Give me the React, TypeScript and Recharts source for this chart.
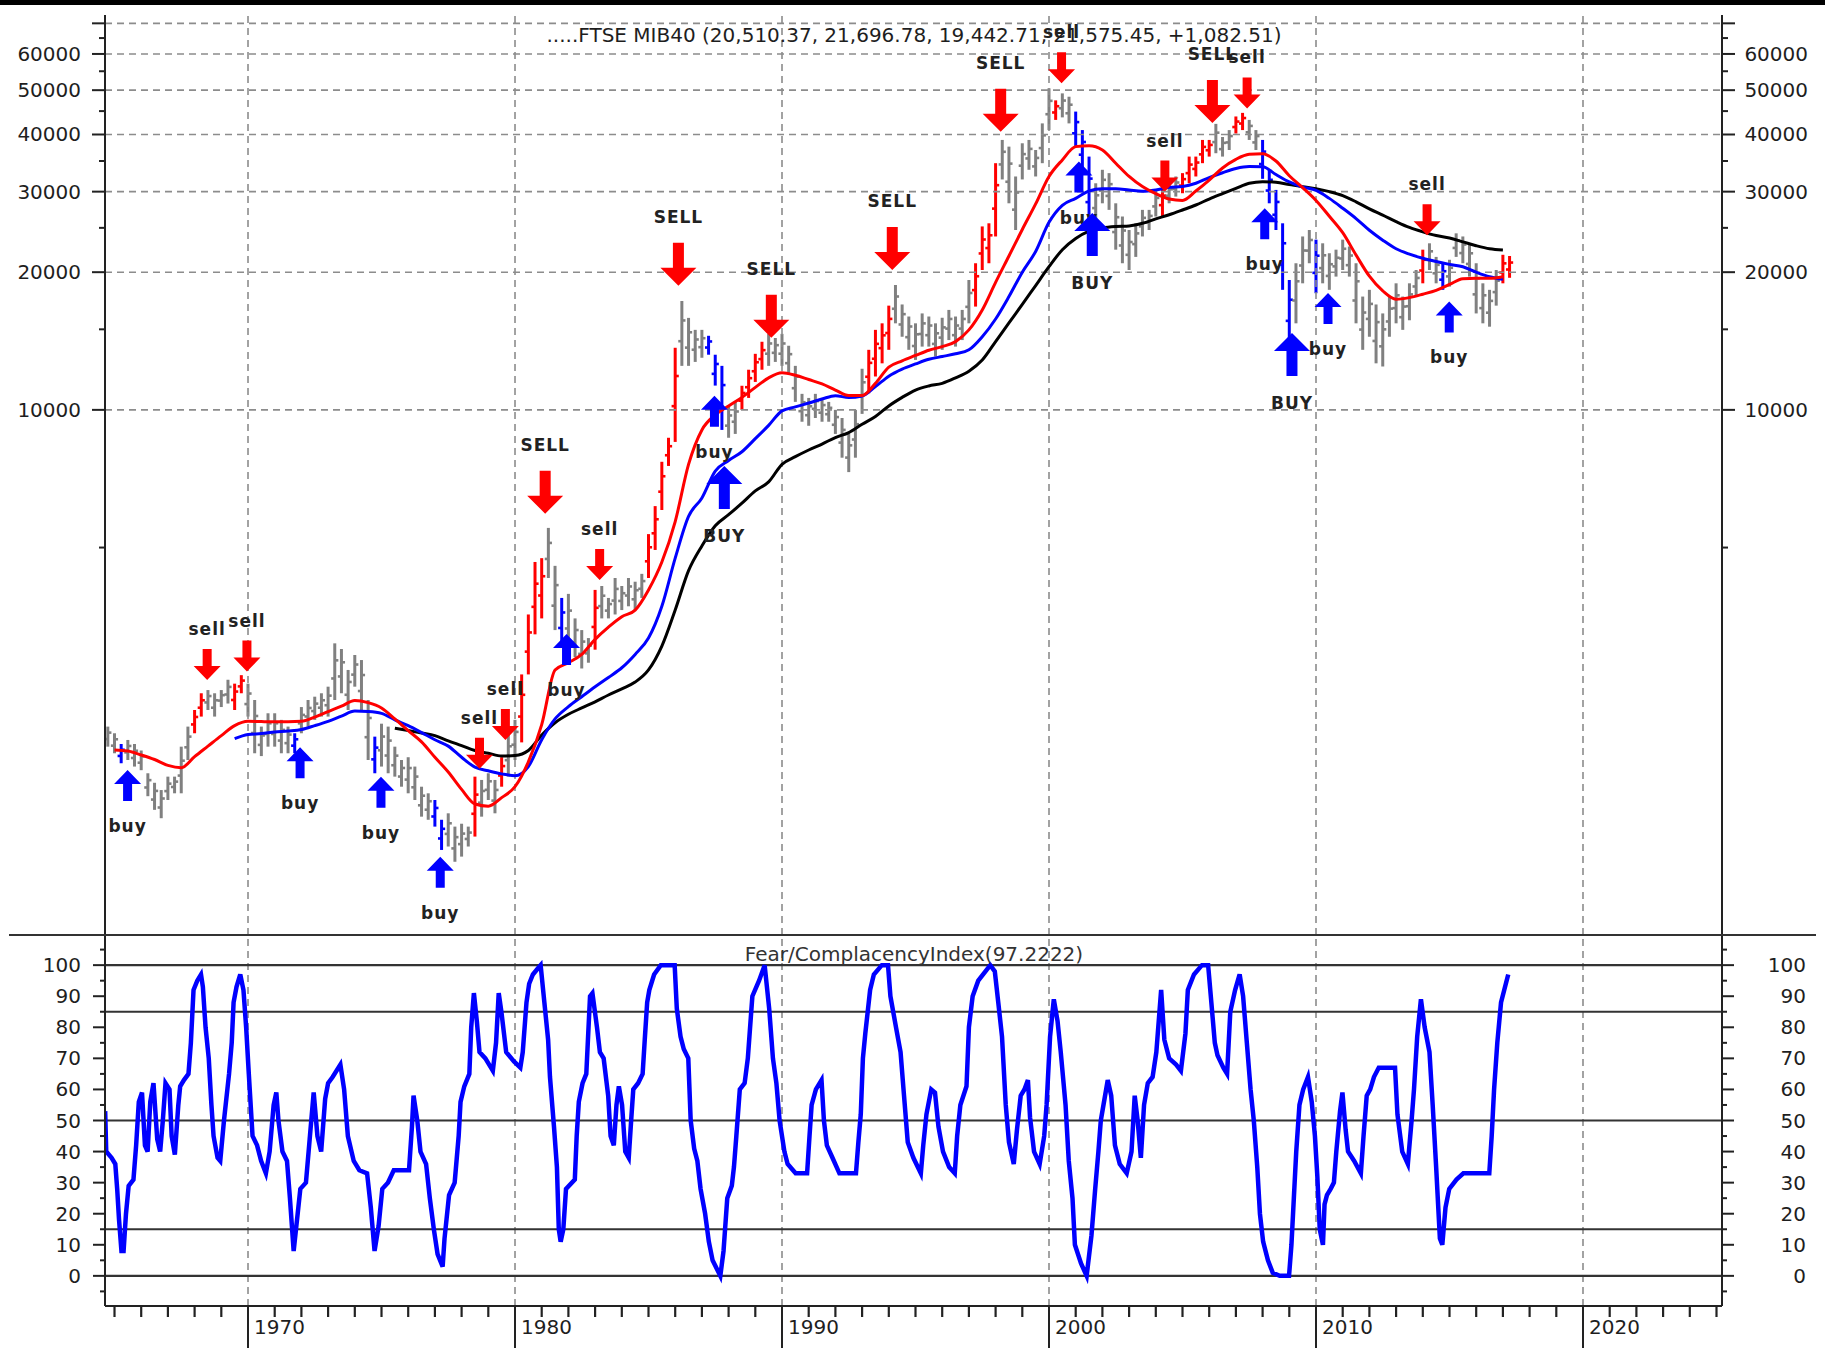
import React from 'react';
import { ComposedChart, XAxis, YAxis, Bar, Line, Scatter, ReferenceLine } from 'recharts';

// ---------------- DATA ----------------
// quarterly price bars (high / low), first bar = 1964.75, one row per year
const priceHigh = [
  2030,
  1963, 1860, 1898, 1860, // 1965
  1800, 1605, 1530, 1475, // 1966
  1578, 1578, 1835, 2030, // 1967
  2207, 2401, 2440, 2401, // 1968
  2440, 2570, 2520, 2630, // 1969
  2520, 2321, 2030, 2171, // 1970
  2171, 2100, 2030, 1963, // 1971
  2240, 2321, 2360, 2401, // 1972
  2482, 3087, 3000, 2700, // 1973
  2911, 2838, 2321, 1930, // 1974
  2060, 2030, 1835, 1716, // 1975
  1740, 1660, 1500, 1451, // 1976
  1403, 1270, 1312, 1227, // 1977
  1245, 1227, 1578, 1552, // 1978
  1605, 1552, 1740, 1963, // 1979
  2100, 2640, 3570, 4650, // 1980
  4740, 5520, 4560, 3880, // 1981
  3960, 3500, 3300, 3170, // 1982
  4040, 4120, 3880, 4290, // 1983
  4120, 4290, 4210, 4380, // 1984
  5350, 6160, 7700, 8690, // 1985
  13670, 17300, 15890, 14960, // 1986
  14960, 14520, 13200, 12480, // 1987
  10200, 10410, 11290, 12240, // 1988
  13260, 14090, 14660, 14360, // 1989
  14660, 13810, 12480, 10840, // 1990
  10620, 10840, 10620, 10410, // 1991
  10000, 9600, 8860, 10000, // 1992
  12300, 13530, 14960, 15460, // 1993
  16900, 18750, 17000, 16000, // 1994
  15460, 16250, 16000, 15460, // 1995
  15900, 16540, 16000, 16540, // 1996
  19230, 20920, 25180, 25580, // 1997
  34620, 38920, 37630, 32380, // 1998
  38270, 38920, 37000, 42300, // 1999
  50470, 47500, 49200, 48380, // 2000
  44890, 40900, 35790, 31290, // 2001
  33490, 32930, 28290, 26470, // 2002
  24730, 25580, 27370, 27370, // 2003
  30260, 30770, 31290, 32380, // 2004
  32930, 35790, 35790, 38920, // 2005
  38920, 42200, 39500, 40900, // 2006
  43800, 44600, 43050, 40900, // 2007
  38920, 33490, 30260, 25580, // 2008
  19230, 20920, 23940, 24730, // 2009
  23560, 23130, 22000, 22400, // 2010
  23560, 22760, 20920, 17690, // 2011
  18300, 17000, 16250, 17690, // 2012
  18910, 17690, 18910, 20220, // 2013
  22400, 23130, 21600, 20920, // 2014
  21290, 24320, 23940, 23130, // 2015
  20920, 18910, 18300, 20220, // 2016
  21830, 21697, // 2017
];
const priceLow = [
  1835,
  1775, 1688, 1716, 1660, // 1965
  1630, 1430, 1335, 1280, // 1966
  1403, 1451, 1451, 1716, // 1967
  1963, 2135, 2207, 2135, // 1968
  2240, 2280, 2207, 2401, // 1969
  2135, 1775, 1750, 1835, // 1970
  1835, 1775, 1775, 1775, // 1971
  1963, 2030, 2100, 2135, // 1972
  2135, 2321, 2401, 2207, // 1973
  2482, 2207, 1716, 1605, // 1974
  1660, 1605, 1578, 1500, // 1975
  1451, 1403, 1290, 1270, // 1976
  1227, 1091, 1110, 1028, // 1977
  1055, 1110, 1167, 1290, // 1978
  1403, 1312, 1500, 1578, // 1979
  1716, 1875, 2640, 3230, // 1980
  3500, 4290, 3300, 3040, // 1981
  2990, 2880, 2720, 2800, // 1982
  2990, 3500, 3500, 3570, // 1983
  3650, 3720, 3650, 3880, // 1984
  4290, 4940, 6040, 7540, // 1985
  8510, 12480, 12480, 12730, // 1986
  13000, 13200, 11300, 9040, // 1987
  8690, 8860, 10000, 10620, // 1988
  11510, 12240, 12480, 12730, // 1989
  12480, 11990, 10410, 9420, // 1990
  9230, 9600, 9420, 9420, // 1991
  8860, 7860, 7310, 7860, // 1992
  9800, 10870, 11830, 12640, // 1993
  13530, 15460, 14450, 13530, // 1994
  12860, 13750, 13750, 13080, // 1995
  13530, 14210, 13750, 14210, // 1996
  15460, 16820, 20220, 20920, // 1997
  23940, 31900, 28290, 24730, // 1998
  31900, 33490, 32380, 34620, // 1999
  40900, 43050, 43600, 42300, // 2000
  37630, 33490, 24730, 25580, // 2001
  28290, 27370, 22400, 20920, // 2002
  20220, 21600, 23940, 24730, // 2003
  26470, 26470, 28290, 29260, // 2004
  29760, 31290, 32380, 34620, // 2005
  35790, 36400, 35790, 37000, // 2006
  40200, 40900, 38920, 37000, // 2007
  32000, 28290, 24730, 18300, // 2008
  13800, 15460, 18910, 20920, // 2009
  17990, 18910, 18300, 19560, // 2010
  20220, 19560, 15460, 13530, // 2011
  14450, 12640, 12440, 14450, // 2012
  15460, 14960, 15700, 17690, // 2013
  18910, 20220, 18910, 18300, // 2014
  18600, 21600, 20920, 19560, // 2015
  16250, 15460, 15200, 16900, // 2016
  18910, 19443, // 2017
];
const FIRST_BAR_YEAR = 1964.75;
const barYears = priceHigh.map((_, i) => FIRST_BAR_YEAR + i * 0.25);

// signal regimes that colour the bars
const redSpans: [number, number][] = [
  [1967.9, 1968.3], [1969.4, 1969.8], [1978.4, 1978.6], [1979.4, 1979.6], [1980.1, 1981.1],
  [1982.9, 1983.1], [1984.9, 1986.1], [1988.4, 1989.3], [1993.1, 1994.1], [1997.1, 1998.1],
  [2000.1, 2000.3], [2004.1, 2004.3], [2004.9, 2006.1], [2006.9, 2007.3], [2013.9, 2014.1],
  [2016.9, 2017.3],
];
const blueSpans: [number, number][] = [
  [1965.1, 1965.3], [1971.7, 1971.8], [1974.6, 1974.8], [1976.9, 1977.3], [1981.6, 1981.8],
  [1987.1, 1987.8], [2000.9, 2001.6], [2007.9, 2009.1], [2009.9, 2010.1], [2014.6, 2014.8],
];

// moving averages, half-year samples
const redMAStart = 1965.0;
const redMA = [
  1805, 1795, 1760, 1720, 1670, 1650, 1745, 1840, 1940, 2040, // 1965-1969.5
  2085, 2082, 2080, 2080, 2085, 2130, 2190, 2250, 2315, 2290, // 1970-1974.5
  2230, 2110, 1990, 1880, 1740, 1615, 1480, 1375, 1360, 1420, // 1975-1979.5
  1500, 1700, 2050, 2700, 2800, 2920, 3150, 3350, 3530, 3650, // 1980-1984.5
  4040, 4650, 5700, 7600, 9040, 9750, 10200, 10650, 11200, 11750, // 1985-1989.5
  12050, 11900, 11650, 11400, 11050, 10750, 10750, 11430, 12400, 12800, // 1990-1994.5
  13150, 13500, 13750, 14100, 14960, 16540, 19000, 21700, 24800, 28200, // 1995-1999.5
  32380, 35200, 37630, 37800, 37010, 34620, 32380, 30770, 29700, 28900, // 2000-2004.5
  28700, 30100, 31800, 33800, 35300, 36200, 36300, 35000, 32500, 30600, // 2005-2009.5
  28700, 26500, 24400, 21800, 19600, 18200, 17450, 17600, 17900, 18250, // 2010-2014.5
  18800, 19350, 19400, 19400, 19550, // 2015-2017
];
const blueMAStart = 1969.5;
const blueMA = [
  1910, // 1969.5
  1950, 1960, 1975, 1985, 2000, 2040, 2085, 2140, 2195, 2190, // 1970-1974.5
  2170, 2100, 2040, 1970, 1900, 1840, 1740, 1655, 1625, 1600, // 1975-1979.5
  1585, 1660, 1900, 2110, 2245, 2360, 2480, 2600, 2730, 2920, // 1980-1984.5
  3170, 3720, 4740, 5850, 6420, 7350, 7750, 8100, 8650, 9250, // 1985-1989.5
  9950, 10150, 10350, 10560, 10740, 10640, 10720, 11240, 11850, 12280, // 1990-1994.5
  12600, 12900, 13080, 13260, 13530, 14450, 15800, 17690, 20000, 22200, // 1995-1999.5
  25700, 28000, 29000, 30100, 30450, 30450, 30250, 30050, 30250, 30650, // 2000-2004.5
  30800, 31300, 32200, 33000, 33700, 34030, 34000, 32700, 31500, 30700, // 2005-2009.5
  30200, 29000, 27600, 26200, 24700, 23500, 22500, 21900, 21450, 21100, // 2010-2014.5
  20800, 20550, 20000, 19550, 19300, // 2015-2017
];
const blackMAStart = 1975.5;
const blackMA = [
  2013, 1990, 1965, 1940, 1890, 1845, 1800, 1775, 1750, // 1975.5-1979.5
  1755, 1800, 1945, 2070, 2160, 2230, 2300, 2380, 2455, 2540, // 1980-1984.5
  2700, 3044, 3650, 4450, 5040, 5580, 5900, 6250, 6650, 6960, // 1985-1989.5
  7600, 7900, 8170, 8420, 8700, 8920, 9300, 9670, 10200, 10650, // 1990-1994.5
  11050, 11280, 11430, 11750, 12150, 12850, 14100, 15500, 17000, 18700, // 1995-1999.5
  20560, 22400, 23700, 24600, 25000, 25180, 25250, 25580, 26150, 26700, // 2000-2004.5
  27350, 28050, 28900, 29700, 30500, 31300, 31550, 31450, 31100, 30750, // 2005-2009.5
  30450, 30000, 29400, 28500, 27500, 26650, 25800, 25050, 24500, 24050, // 2010-2014.5
  23750, 23300, 22850, 22500, 22350, // 2015-2017
];

// buy / sell signals: year, price at the arrow tip, label
const signalYears = [1965.49, 1968.47, 1969.96, 1971.95, 1974.98, 1977.2, 1978.67, 1979.64, 1981.13, 1981.93,
  1983.17, 1986.12, 1987.47, 1987.84, 1989.6, 1994.13, 1998.19, 2000.47, 2001.12, 2001.62,
  2004.34, 2006.12, 2007.42, 2008.08, 2009.1, 2010.45, 2014.16, 2014.99];
const signalPrices = [1632, 2568, 2678, 1830, 1578, 1054, 1642, 1898, 5930, 3236,
  4245, 18680, 10730, 7540, 14380, 20220, 40550, 51800, 34900, 26930,
  30010, 42400, 45600, 27600, 14730, 18000, 24100, 17260];
const signalLabels = ['buy', 'sell', 'sell', 'buy', 'buy', 'buy', 'sell', 'sell', 'SELL', 'buy',
  'sell', 'SELL', 'buy', 'BUY', 'SELL', 'SELL', 'SELL', 'sell', 'buy', 'BUY',
  'sell', 'SELL', 'sell', 'buy', 'BUY', 'buy', 'sell', 'buy'];

// Fear/Complacency index
const fciYears = [
  1964.65, 1964.69, 1964.89, 1965.03, 1965.1, 1965.17, 1965.26, 1965.34, 1965.43, 1965.53, 1965.71, 1965.81, 1965.91,
  1966.03, 1966.14, 1966.24, 1966.34, 1966.46, 1966.6, 1966.71, 1966.81, 1966.91, 1967.06, 1967.14, 1967.26, 1967.39,
  1967.46, 1967.6, 1967.77, 1967.86, 1967.96, 1968.1, 1968.24, 1968.31, 1968.41, 1968.53, 1968.63, 1968.71, 1968.86,
  1968.96, 1969.1, 1969.29, 1969.39, 1969.46, 1969.57, 1969.71, 1969.83, 1969.93, 1970.03, 1970.17, 1970.34, 1970.49,
  1970.67, 1970.81, 1970.96, 1971.06, 1971.14, 1971.29, 1971.46, 1971.57, 1971.71, 1971.86, 1971.96, 1972.17, 1972.31,
  1972.46, 1972.6, 1972.74, 1972.89, 1973.0, 1973.17, 1973.46, 1973.6, 1973.74, 1973.96, 1974.17, 1974.46, 1974.6,
  1974.74, 1974.89, 1975.03, 1975.24, 1975.46, 1976.03, 1976.14, 1976.2, 1976.34, 1976.46, 1976.67, 1976.81, 1976.96,
  1977.1, 1977.29, 1977.36, 1977.53, 1977.74, 1977.89, 1977.96, 1978.1, 1978.29, 1978.36, 1978.46, 1978.57, 1978.67,
  1978.89, 1979.17, 1979.29, 1979.39, 1979.49, 1979.67, 1979.96, 1980.2, 1980.29, 1980.43, 1980.53, 1980.67, 1980.86,
  1980.96, 1981.1, 1981.24, 1981.31, 1981.46, 1981.57, 1981.64, 1981.71, 1981.81, 1981.91, 1982.24, 1982.31, 1982.39,
  1982.53, 1982.67, 1982.81, 1982.9, 1983.07, 1983.18, 1983.32, 1983.49, 1983.58, 1983.7, 1983.8, 1983.89, 1984.01,
  1984.13, 1984.26, 1984.35, 1984.43, 1984.61, 1984.78, 1984.86, 1984.95, 1985.03, 1985.21, 1985.46, 1985.98, 1986.06,
  1986.2, 1986.32, 1986.49, 1986.58, 1986.71, 1986.83, 1986.95, 1987.12, 1987.26, 1987.4, 1987.69, 1987.81, 1987.95,
  1988.12, 1988.2, 1988.29, 1988.42, 1988.6, 1988.72, 1988.89, 1989.14, 1989.35, 1989.52, 1989.66, 1989.79, 1989.91,
  1990.09, 1990.21, 1990.51, 1990.94, 1991.03, 1991.11, 1991.27, 1991.48, 1991.57, 1991.68, 1991.89, 1992.15, 1992.77,
  1992.86, 1992.95, 1993.03, 1993.12, 1993.21, 1993.3, 1993.44, 1993.74, 1993.97, 1994.06, 1994.27, 1994.44, 1994.57,
  1994.71, 1994.92, 1995.2, 1995.29, 1995.41, 1995.59, 1995.73, 1995.86, 1996.03, 1996.26, 1996.47, 1996.56, 1996.68,
  1996.91, 1997.0, 1997.14, 1997.35, 1997.62, 1997.8, 1997.97, 1998.1, 1998.24, 1998.38, 1998.5, 1998.68, 1998.8,
  1998.94, 1999.08, 1999.21, 1999.29, 1999.44, 1999.65, 1999.82, 1999.91, 2000.04, 2000.18, 2000.32, 2000.44, 2000.62,
  2000.74, 2000.88, 2000.97, 2001.2, 2001.41, 2001.59, 2001.73, 2001.85, 2001.94, 2002.08, 2002.2, 2002.33, 2002.47,
  2002.65, 2002.91, 2003.09, 2003.21, 2003.32, 2003.44, 2003.56, 2003.7, 2003.88, 2004.02, 2004.2, 2004.32, 2004.5,
  2004.76, 2004.94, 2005.11, 2005.2, 2005.43, 2005.73, 2005.96, 2006.08, 2006.21, 2006.31, 2006.53, 2006.67, 2006.79,
  2006.97, 2007.14, 2007.27, 2007.41, 2007.55, 2007.67, 2007.8, 2007.9, 2008.02, 2008.2, 2008.38, 2008.64, 2008.99,
  2009.08, 2009.17, 2009.26, 2009.38, 2009.52, 2009.7, 2009.84, 2009.96, 2010.05, 2010.14, 2010.26, 2010.32, 2010.41,
  2010.55, 2010.67, 2010.76, 2010.9, 2010.99, 2011.11, 2011.2, 2011.43, 2011.68, 2011.78, 2011.9, 2012.03, 2012.17,
  2012.35, 2012.96, 2013.05, 2013.23, 2013.44, 2013.58, 2013.67, 2013.79, 2013.93, 2014.07, 2014.25, 2014.37, 2014.5,
  2014.64, 2014.73, 2014.85, 2014.99, 2015.26, 2015.52, 2016.49, 2016.58, 2016.67, 2016.79, 2016.93, 2017.05, 2017.2,
];
const fciValues = [
  53, 40, 38, 36, 28, 18, 8, 8, 20, 29, 31, 42, 56,
  59, 42, 40, 56, 62, 44, 40, 50, 62, 60, 45, 39, 55,
  61, 63, 65, 75, 92, 95, 97, 93, 80, 70, 55, 45, 38,
  37, 50, 65, 75, 88, 93, 97, 92, 80, 65, 45, 42, 37,
  33, 40, 55, 59, 50, 40, 37, 25, 8, 20, 28, 30, 44,
  59, 45, 40, 57, 62, 64, 68, 60, 45, 37, 34, 33, 22,
  8, 16, 28, 30, 34, 34, 48, 58, 50, 40, 36, 25, 15,
  7, 3, 12, 26, 30, 45, 56, 61, 65, 80, 91, 82, 72,
  70, 66, 75, 91, 85, 72, 69, 67, 72, 88, 94, 97, 99,
  100, 88, 76, 64, 48, 35, 15, 11, 15, 28, 31, 45, 56,
  62, 65, 90, 91, 80, 72, 70, 58, 45, 42, 55, 61, 55,
  40, 38, 50, 60, 62, 65, 76, 88, 92, 97, 100, 100, 86,
  77, 73, 70, 50, 41, 37, 28, 20, 11, 5, 0, 8, 25,
  29, 35, 45, 60, 62, 70, 90, 95, 100, 86, 70, 62, 50,
  40, 36, 33, 33, 45, 55, 60, 63, 50, 42, 38, 33, 33,
  43, 52, 70, 78, 85, 92, 97, 100, 100, 90, 80, 72, 58,
  43, 38, 33, 42, 52, 60, 59, 48, 40, 35, 33, 45, 55,
  61, 80, 90, 95, 98, 100, 98, 88, 77, 55, 43, 36, 47,
  58, 60, 63, 51, 40, 36, 45, 55, 77, 89, 82, 72, 55,
  37, 25, 10, 4, 0, 13, 28, 40, 50, 57, 63, 58, 42,
  36, 33, 40, 58, 50, 38, 55, 62, 64, 72, 92, 76, 70,
  68, 66, 78, 92, 97, 100, 100, 88, 75, 71, 67, 65, 85,
  92, 97, 90, 75, 60, 50, 35, 20, 11, 5, 1, 0, 0,
  10, 25, 40, 55, 60, 64, 56, 45, 32, 15, 10, 23, 26,
  28, 30, 40, 53, 59, 47, 40, 37, 33, 45, 58, 60, 64,
  67, 67, 52, 40, 36, 50, 60, 77, 89, 80, 72, 55, 35,
  12, 10, 22, 28, 31, 33, 33, 45, 60, 75, 88, 92, 97,
];

// axis definitions
const priceTicks = [5000, 10000, 15000, 20000, 25000, 30000, 35000, 40000, 45000, 50000, 55000, 60000, 65000, 70000];
const priceLabels = [10000, 20000, 30000, 40000, 50000, 60000];
const priceGrid = [10000, 20000, 30000, 40000, 50000, 60000, 70000];
const fciTicks = [-5, 0, 5, 10, 15, 20, 25, 30, 35, 40, 45, 50, 55, 60, 65, 70, 75, 80, 85, 90, 95, 100, 105];
const fciLabels = [0, 10, 20, 30, 40, 50, 60, 70, 80, 90, 100];
const fciLevels = [0, 15, 50, 85, 100];
const decadeYears = [1970, 1980, 1990, 2000, 2010, 2020];
const yearTicks = [
  1965, 1966, 1967, 1968, 1969, 1970, 1971, 1972, 1973, 1974, 1975, 1976, 1977, 1978, 1979, 1980,
  1981, 1982, 1983, 1984, 1985, 1986, 1987, 1988, 1989, 1990, 1991, 1992, 1993, 1994, 1995, 1996,
  1997, 1998, 1999, 2000, 2001, 2002, 2003, 2004, 2005, 2006, 2007, 2008, 2009, 2010, 2011, 2012,
  2013, 2014, 2015, 2016, 2017, 2018, 2019, 2020, 2021, 2022, 2023, 2024, 2025,
];
const chartTitle = '.....FTSE MIB40 (20,510.37, 21,696.78, 19,442.71, 21,575.45, +1,082.51)';
const indexTitle = 'Fear/ComplacencyIndex(97.2222)';

// ---------------- STYLE ----------------
const X_DOMAIN: [number, number] = [1964.644, 2025.206];
const AXIS_L = 105;
const AXIS_R = 1722;
const FONT = '"DejaVu Sans", Verdana, sans-serif';
const RED = '#ff0000';
const BLUE = '#0000ff';
const GRAY = '#808080';
const TXT = '#1e1e1e';
const GRID = '#8c8c8c';

const bars = barYears.map((t, i) => ({ t, lo: priceLow[i], hi: priceHigh[i] }));
const mkSeries = (start: number, vals: number[]) => vals.map((v, i) => ({ t: start + i * 0.5, v }));
const redData = mkSeries(redMAStart, redMA);
const blueData = mkSeries(blueMAStart, blueMA);
const blackData = mkSeries(blackMAStart, blackMA);
const signals = signalYears.map((t, i) => ({ t, p: signalPrices[i], label: signalLabels[i] }));
const fciData = fciYears.map((t, i) => ({ t, v: fciValues[i] }));

const inSpans = (t: number, spans: [number, number][]) => spans.some(([a, b]) => t >= a && t <= b);

function PriceBar(props: any) {
  const { x, y, width, height, payload } = props;
  if (x == null || y == null || !isFinite(height)) return null;
  const c = inSpans(payload.t, redSpans) ? RED : inSpans(payload.t, blueSpans) ? BLUE : GRAY;
  const cx = x + width / 2;
  const yo = y + height * 0.62;
  const yc = y + height * 0.3;
  return (
    <g>
      <line x1={cx} x2={cx} y1={y} y2={y + height} stroke={c} strokeWidth={3} />
      <line x1={cx - 3.6} x2={cx} y1={yo} y2={yo} stroke={c} strokeWidth={2.6} />
      <line x1={cx} x2={cx + 3.6} y1={yc} y2={yc} stroke={c} strokeWidth={2.6} />
    </g>
  );
}

function SignalArrow(props: any) {
  const { cx, cy, payload } = props;
  if (cx == null || cy == null) return null;
  const label: string = payload.label;
  const big = label === 'SELL' || label === 'BUY';
  const sell = label.toLowerCase() === 'sell';
  const L = big ? 43 : 31;
  const hw = big ? 18 : 13.5;
  const hh = big ? 18 : 14;
  const sw = big ? 5.5 : 4.5;
  const dir = sell ? -1 : 1;
  const color = sell ? RED : BLUE;
  const d = `M${cx},${cy} L${cx + hw},${cy + dir * hh} L${cx + sw},${cy + dir * hh} L${cx + sw},${cy + dir * L} L${cx - sw},${cy + dir * L} L${cx - sw},${cy + dir * hh} L${cx - hw},${cy + dir * hh} Z`;
  const gap = sell ? (big ? 26 : 20) : (big ? 27 : 25);
  const ly = cy + dir * (L + gap);
  return (
    <g>
      <path d={d} fill={color} />
      <text x={cx} y={ly} dy={6} textAnchor="middle" fontFamily={FONT} fontWeight="bold" fontSize={17} letterSpacing={1} fill="#222">
        {label}
      </text>
    </g>
  );
}

function PriceTick(props: any) {
  const { y, payload, side } = props;
  const v = payload.value;
  const major = priceGrid.includes(v);
  const len = major ? 13 : 6;
  const x0 = side === 'L' ? AXIS_L : AXIS_R;
  const x1 = side === 'L' ? x0 - len : x0 + len;
  return (
    <g>
      <line x1={x0} x2={x1} y1={y} y2={y} stroke="#222" strokeWidth={2} />
      {priceLabels.includes(v) && (
        <text x={side === 'L' ? 81 : 1808} y={y} dy={7} textAnchor="end" fontFamily={FONT} fontSize={20} fill={TXT}>
          {v}
        </text>
      )}
    </g>
  );
}

function FciTick(props: any) {
  const { y, payload, side } = props;
  const v = payload.value;
  const major = v % 10 === 0;
  const len = major ? 12 : 5;
  const x0 = side === 'L' ? AXIS_L : AXIS_R;
  const x1 = side === 'L' ? x0 - len : x0 + len;
  return (
    <g>
      <line x1={x0} x2={x1} y1={y} y2={y} stroke="#222" strokeWidth={2} />
      {fciLabels.includes(v) && (
        <text x={side === 'L' ? 81 : 1806} y={y} dy={7} textAnchor="end" fontFamily={FONT} fontSize={20} fill={TXT}>
          {v}
        </text>
      )}
    </g>
  );
}

const AXIS_Y_LOCAL = 371;
function YearTick(props: any) {
  const { x, payload } = props;
  const v = payload.value;
  const decade = v % 10 === 0;
  return (
    <g>
      <line x1={x} x2={x} y1={AXIS_Y_LOCAL} y2={decade ? 413 : AXIS_Y_LOCAL + 11} stroke="#222" strokeWidth={decade ? 2 : 2.2} />
      {decade && (
        <text x={x + 6} y={399} fontFamily={FONT} fontSize={20} fill={TXT}>
          {v}
        </text>
      )}
    </g>
  );
}

export default function App() {
  return (
    <div style={{ position: 'absolute', left: 0, top: 0, width: 1825, height: 1348, background: '#fff', overflow: 'hidden' }}>
      <style>{'body{margin:0}'}</style>
      <div style={{ position: 'absolute', left: 0, top: 0 }}>
        <ComposedChart width={1825} height={940} data={bars} margin={{ top: 15, right: 3, bottom: 5, left: 5 }}>
          <XAxis type="number" dataKey="t" domain={X_DOMAIN} allowDataOverflow hide />
          <YAxis
            yAxisId="L" type="number" scale="log" domain={[711, 73000]} allowDataOverflow
            ticks={priceTicks} interval={0} width={100} tickLine={false}
            axisLine={{ stroke: '#222', strokeWidth: 2 }}
            tick={(p: any) => <PriceTick {...p} side="L" />}
          />
          <YAxis
            yAxisId="R" orientation="right" type="number" scale="log" domain={[711, 73000]} allowDataOverflow
            ticks={priceTicks} interval={0} width={100} tickLine={false}
            axisLine={{ stroke: '#222', strokeWidth: 2 }}
            tick={(p: any) => <PriceTick {...p} side="R" />}
          />
          {decadeYears.map((d) => (
            <ReferenceLine key={'vx' + d} yAxisId="L" x={d} stroke={GRID} strokeDasharray="7 5" strokeWidth={1.6} />
          ))}
          {priceGrid.map((v) => (
            <ReferenceLine key={'hy' + v} yAxisId="L" y={v} stroke={GRID} strokeDasharray="7 5" strokeWidth={1.6} />
          ))}
          <Bar yAxisId="L" dataKey={(d: any) => [d.lo, d.hi]} barSize={6} shape={PriceBar} isAnimationActive={false} />
          <Line yAxisId="L" data={blackData} dataKey="v" type="monotone" stroke="#000" strokeWidth={3} dot={false} isAnimationActive={false} />
          <Line yAxisId="L" data={blueData} dataKey="v" type="monotone" stroke={BLUE} strokeWidth={3} dot={false} isAnimationActive={false} />
          <Line yAxisId="L" data={redData} dataKey="v" type="monotone" stroke={RED} strokeWidth={3} dot={false} isAnimationActive={false} />
          <Scatter yAxisId="L" data={signals} dataKey="p" shape={SignalArrow} isAnimationActive={false} />
        </ComposedChart>
      </div>
      <div style={{ position: 'absolute', left: 0, top: 935 }}>
        <ComposedChart width={1825} height={413} margin={{ top: 0, right: 3, bottom: 0, left: 5 }}>
          <XAxis
            type="number" dataKey="t" domain={X_DOMAIN} allowDataOverflow ticks={yearTicks} interval={0}
            height={42} tickLine={false} axisLine={{ stroke: '#222', strokeWidth: 2 }} tick={YearTick}
          />
          <YAxis
            yAxisId="L" type="number" domain={[-9.7, 109.7]} allowDataOverflow ticks={fciTicks} interval={0}
            width={100} tickLine={false} axisLine={{ stroke: '#222', strokeWidth: 2 }}
            tick={(p: any) => <FciTick {...p} side="L" />}
          />
          <YAxis
            yAxisId="R" orientation="right" type="number" domain={[-9.7, 109.7]} allowDataOverflow ticks={fciTicks} interval={0}
            width={100} tickLine={false} axisLine={{ stroke: '#222', strokeWidth: 2 }}
            tick={(p: any) => <FciTick {...p} side="R" />}
          />
          {decadeYears.map((d) => (
            <ReferenceLine key={'lx' + d} yAxisId="L" x={d} stroke={GRID} strokeDasharray="7 5" strokeWidth={1.6} />
          ))}
          {fciLevels.map((v) => (
            <ReferenceLine key={'ly' + v} yAxisId="L" y={v} stroke="#333" strokeWidth={2.2} />
          ))}
          <Line yAxisId="L" data={fciData} dataKey="v" type="linear" stroke={BLUE} strokeWidth={4.5} dot={false} isAnimationActive={false} />
        </ComposedChart>
      </div>
      <svg width={1825} height={1348} style={{ position: 'absolute', left: 0, top: 0, pointerEvents: 'none' }}>
        <rect x={0} y={0} width={1825} height={5} fill="#000" />
        <line x1={9} x2={1816} y1={935} y2={935} stroke="#333" strokeWidth={2} />
        <text x={914} y={42} textAnchor="middle" fontFamily={FONT} fontSize={20} fill={TXT}>{chartTitle}</text>
        <text x={914} y={961} textAnchor="middle" fontFamily={FONT} fontSize={20} fill="#333">{indexTitle}</text>
      </svg>
    </div>
  );
}
